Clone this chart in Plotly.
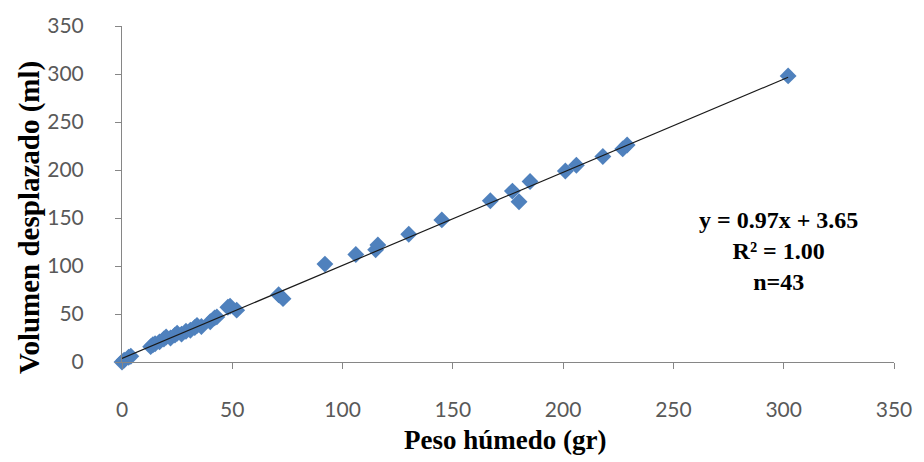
import plotly.graph_objects as go

# Peso húmedo (gr) vs. volumen desplazado (ml), 43 muestras
peso_humedo = [0, 1, 3, 4, 13, 14, 15, 17, 19, 20, 22, 24, 25, 27, 29, 31, 33, 34, 36,
               40, 42, 43, 48, 49, 52,
               71, 73, 92, 106, 115, 116, 130, 145, 167, 177, 180, 185,
               201, 206, 218, 227, 229, 302]
volumen = [0, 2, 5, 6, 16, 18, 19, 21, 24, 26, 25, 28, 30, 29, 32, 33, 36, 38, 37,
           42, 46, 47, 57, 58, 54,
           70, 66, 102, 112, 117, 122, 133, 148, 168, 178, 167, 188,
           199, 205, 214, 222, 226, 298]

# Ajuste lineal reportado
pendiente = 0.97
intercepto = 3.65
r2 = 1.00
n = 43

tick_vals = [0, 50, 100, 150, 200, 250, 300, 350]

x_fit = [min(peso_humedo), max(peso_humedo)]
y_fit = [pendiente * v + intercepto for v in x_fit]

fig = go.Figure()
fig.add_trace(go.Scatter(
    x=peso_humedo, y=volumen, mode="markers",
    marker=dict(symbol="diamond", size=13, color="#4F81BD",
                line=dict(width=0)),
    cliponaxis=False, showlegend=False,
))
fig.add_trace(go.Scatter(
    x=x_fit, y=y_fit, mode="lines",
    line=dict(color="#1a1a1a", width=1.2),
    cliponaxis=False, showlegend=False,
))

axis_common = dict(
    range=[0, 350], tickvals=tick_vals, showgrid=False, zeroline=False,
    showline=True, linecolor="#868686", linewidth=1,
    ticks="outside", ticklen=6, tickcolor="#868686",
    tickfont=dict(family="Lato", size=21, color="#595959"),
)

fig.update_layout(
    width=924, height=462,
    margin=dict(l=122, r=21, t=24, b=100),
    paper_bgcolor="white", plot_bgcolor="white",
    xaxis=dict(**axis_common, ticklabelstandoff=23),
    yaxis=dict(**axis_common, ticklabelstandoff=27),
)

title_font = dict(family="Liberation Serif", color="black", weight="bold")

# Títulos de los ejes
fig.add_annotation(
    text="Peso húmedo (gr)", showarrow=False,
    xref="paper", yref="paper", x=0.496, y=-0.232,
    xanchor="center", yanchor="middle",
    font=dict(**title_font, size=27),
)
fig.add_annotation(
    text="Volumen desplazado (ml)", showarrow=False, textangle=-90,
    xref="paper", yref="paper", x=-0.12, y=0.43,
    xanchor="center", yanchor="middle",
    font=dict(**title_font, size=29),
)

# Ecuación del ajuste
fig.add_annotation(
    x=297.5, y=116, xref="x", yref="y", showarrow=False, align="center",
    text=(f"y = {pendiente:.2f}x + {intercepto:.2f}<br>"
          f"R² = {r2:.2f}<br>n={n}"),
    font=dict(**title_font, size=24),
    xanchor="center", yanchor="middle",
)

fig.write_html("out.html")
